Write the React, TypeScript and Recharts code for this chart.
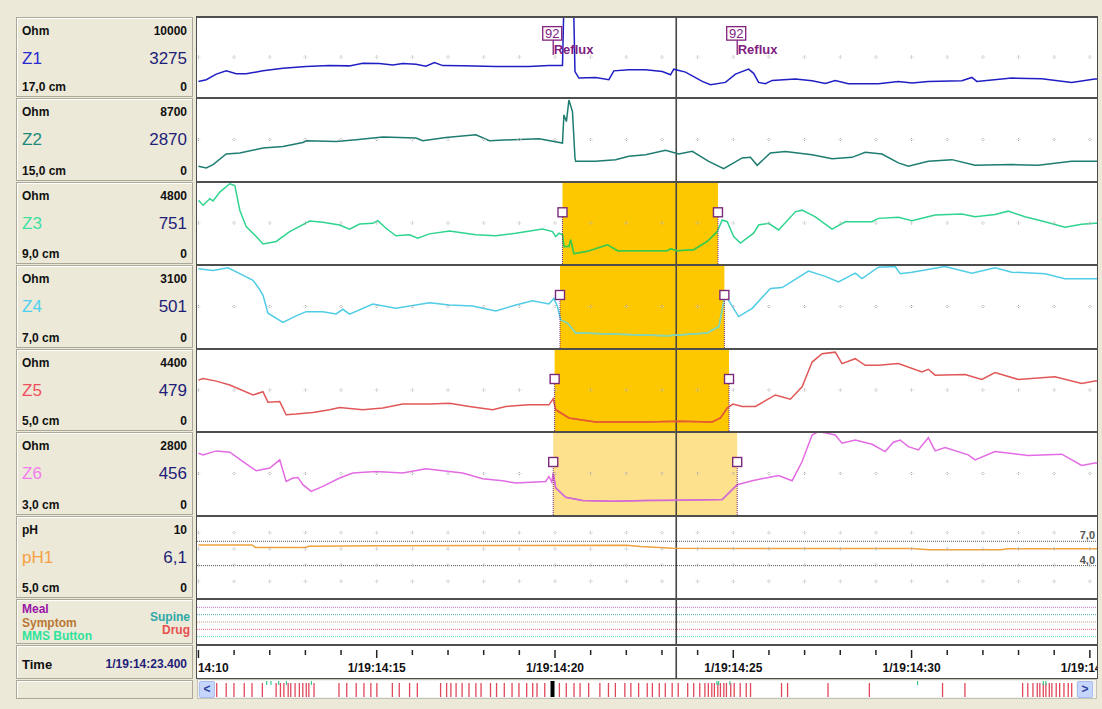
import React from 'react';
import {
  ComposedChart,
  Line,
  Scatter,
  XAxis,
  YAxis,
  ReferenceArea,
  ReferenceLine,
  ReferenceDot,
} from 'recharts';

// ---- data (time in seconds after 1/19:14:00, impedance in Ohm, pH units) ----

const seconds = [10, 11, 12, 13, 14, 15, 16, 17, 18, 19, 20, 21, 22, 23, 24, 25, 26, 27, 28, 29, 30, 31, 32, 33, 34, 35];
const cursorTime = 23.4;

const z1Trace: [number, number][] = [
  [10.0, 1975], [10.22, 2190], [10.5, 2900], [10.78, 3310], [11.06, 2940], [11.34, 2940], [11.81, 3310],
  [12.37, 3650], [13.02, 3850], [13.67, 3975], [14.23, 3940], [14.61, 4275], [15.07, 4225], [15.45, 4060],
  [15.73, 4225], [16.1, 4150], [16.38, 3900], [16.62, 4350], [16.85, 3975], [17.41, 3940], [18.34, 3850],
  [19.27, 3850], [19.83, 3975], [20.21, 3975], [20.25, 12000], [20.52, 12000], [20.56, 3225], [20.67, 2400],
  [21.14, 2475], [21.51, 2190], [21.65, 3310], [22.07, 3440], [22.54, 3440], [23.01, 3225], [23.24, 2810],
  [23.33, 3525], [23.66, 3150], [24.13, 1975], [24.36, 1560], [24.78, 1850], [25.06, 2900], [25.43, 3525],
  [25.57, 3000], [25.71, 1850], [25.9, 1690], [26.09, 2100], [26.74, 2275], [27.21, 2060], [27.58, 1725],
  [27.86, 2100], [28.23, 1690], [29.07, 1690], [29.63, 1975], [30.01, 1775], [30.47, 1975], [31.41, 2060],
  [31.69, 2475], [31.83, 1975], [32.81, 2400], [33.65, 2310], [34.49, 1850], [35.14, 2275], [35.2, 2275],
];

const z2Trace: [number, number][] = [
  [10.0, 1561], [10.22, 1392], [10.41, 1740], [10.78, 2868], [11.16, 2974], [11.81, 3501], [12.37, 3670],
  [12.93, 4091], [13.02, 4271], [13.86, 4197], [14.42, 4376], [15.17, 4661], [16.1, 4555], [16.29, 4271],
  [16.94, 4619], [17.78, 4903], [18.16, 4271], [18.81, 4376], [19.55, 4482], [20.21, 4028], [20.25, 7013],
  [20.32, 6306], [20.39, 8594], [20.49, 7361], [20.56, 2446], [20.58, 2088], [21.14, 2088], [21.7, 2267],
  [22.07, 2615], [22.54, 2794], [23.1, 3248], [23.47, 2868], [23.85, 3142], [24.31, 2088], [24.73, 1318],
  [25.25, 2446], [25.48, 2510], [25.67, 1666], [26.04, 2974], [26.46, 3142], [27.21, 2794], [27.77, 2373],
  [28.33, 2510], [28.7, 3037], [29.17, 2868], [29.63, 1919], [29.91, 1561], [30.47, 2088], [31.13, 2267],
  [31.78, 1666], [32.81, 1740], [33.55, 1666], [34.49, 2088], [35.14, 2088], [35.2, 2088],
];

const z3Trace: [number, number][] = [
  [10.0, 3776], [10.13, 3483], [10.32, 3875], [10.41, 3735], [10.6, 4262], [10.88, 4753], [11.02, 4654],
  [11.16, 3190], [11.34, 2213], [11.62, 1627], [11.81, 1182], [12.18, 1335], [12.56, 1920], [13.12, 2546],
  [13.49, 2470], [13.96, 2312], [14.24, 2061], [14.52, 2371], [14.89, 2412], [15.03, 2564], [15.26, 2119],
  [15.54, 1668], [15.92, 1727], [16.15, 1534], [16.48, 1785], [17.04, 1961], [17.78, 1727], [18.34, 1668],
  [18.9, 1826], [19.65, 2078], [19.93, 1920], [20.02, 1627], [20.11, 1826], [20.21, 1727], [20.25, 1042],
  [20.39, 1042], [20.44, 1434], [20.53, 615], [20.91, 749], [21.47, 1142], [21.75, 790], [23.15, 790],
  [23.24, 907], [23.43, 790], [23.89, 849], [24.27, 1335], [24.55, 1920], [24.69, 2605], [24.83, 2505],
  [25.01, 1627], [25.2, 1241], [25.57, 1826], [25.71, 2312], [25.99, 2412], [26.27, 2020], [26.74, 3091],
  [26.93, 3190], [27.3, 2798], [27.77, 2061], [28.14, 2505], [28.89, 2505], [29.07, 2704], [29.63, 2763],
  [30.01, 2564], [30.66, 2898], [31.41, 2956], [31.78, 2798], [32.34, 2939], [32.71, 3132], [33.18, 2798],
  [33.74, 2505], [34.3, 2178], [34.77, 2353], [35.14, 2412], [35.2, 2412],
];

const z4Trace: [number, number][] = [
  [10.0, 2995], [10.41, 2932], [10.83, 3033], [11.16, 2809], [11.53, 2558], [11.67, 2308], [11.81, 1998],
  [11.95, 1315], [12.37, 964], [12.74, 1214], [13.02, 1374], [13.49, 1374], [13.86, 1289], [14.05, 1464],
  [14.24, 1277], [14.89, 1662], [15.54, 1501], [16.48, 1711], [17.04, 1625], [17.69, 1587], [18.34, 1401],
  [18.9, 1625], [19.37, 1785], [19.83, 1662], [19.97, 1875], [20.07, 1561], [20.16, 1064], [20.35, 941],
  [20.58, 568], [20.72, 568], [22.21, 504], [23.15, 467], [24.27, 568], [24.6, 814], [24.75, 1875],
  [24.78, 1998], [24.92, 1688], [25.15, 1188], [25.53, 1501], [26.04, 2248], [26.37, 2286], [27.11, 2906],
  [27.58, 2708], [27.95, 2495], [28.42, 2831], [28.61, 2622], [29.07, 3055], [29.54, 3081], [29.68, 2809],
  [30.01, 2868], [30.94, 3081], [31.69, 2831], [32.34, 3033], [32.81, 2868], [33.74, 2809], [34.3, 2622],
  [35.14, 2622], [35.2, 2622],
];

const z5Trace: [number, number][] = [
  [10.0, 2763], [10.13, 2855], [10.5, 2710], [10.88, 2495], [11.53, 1959], [11.81, 2136], [11.95, 1567],
  [12.28, 1599], [12.46, 885], [12.74, 923], [13.21, 1009], [13.68, 1154], [13.96, 1277], [14.61, 1154],
  [15.17, 1245], [15.73, 1460], [16.48, 1460], [17.04, 1513], [17.6, 1331], [18.25, 1154], [18.62, 1331],
  [19.27, 1422], [19.83, 1422], [19.95, 1744], [20.02, 1154], [20.39, 708], [21.14, 494], [22.54, 494],
  [23.47, 526], [24.41, 494], [24.64, 708], [24.83, 1245], [24.99, 1460], [25.25, 1331], [25.62, 1331],
  [26.18, 1959], [26.6, 1728], [26.93, 2404], [27.21, 3745], [27.49, 4196], [27.86, 4282], [28.05, 3660],
  [28.42, 3928], [28.7, 3568], [29.07, 3568], [29.63, 3660], [30.29, 3209], [30.47, 3354], [30.66, 3032],
  [31.5, 3069], [31.97, 2801], [32.34, 3177], [32.99, 2801], [34.02, 2941], [34.77, 2586], [35.14, 2710],
  [35.2, 2710],
];

const z6Trace: [number, number][] = [
  [10.0, 2111], [10.13, 2053], [10.5, 2189], [10.88, 2145], [11.25, 1826], [11.62, 1510], [12.0, 1602],
  [12.28, 1884], [12.46, 1147], [12.65, 1263], [12.79, 1283], [12.93, 1035], [13.16, 808], [13.49, 977],
  [13.96, 1263], [14.33, 1432], [14.98, 1487], [15.73, 1432], [16.38, 1578], [17.04, 1487], [17.41, 1432],
  [17.97, 1239], [18.53, 1171], [18.9, 1093], [19.74, 1147], [19.83, 1317], [19.91, 1127], [19.95, 1432],
  [20.02, 923], [20.3, 604], [20.77, 492], [21.61, 468], [22.54, 492], [23.47, 502], [24.69, 526],
  [25.11, 1035], [25.53, 1171], [26.27, 1351], [26.65, 1171], [26.93, 1826], [27.21, 2732], [27.39, 2850],
  [27.86, 2732], [28.05, 2450], [28.42, 2562], [28.89, 2416], [29.26, 2165], [29.49, 2484], [29.68, 2562],
  [29.91, 2335], [30.19, 2223], [30.47, 2641], [30.66, 2189], [30.94, 2301], [31.59, 2053], [31.78, 1884],
  [32.34, 2165], [33.27, 2030], [34.21, 2077], [34.77, 1690], [35.14, 1772], [35.2, 1772],
];

const ph1Trace: [number, number][] = [
  [10.0, 6.55], [11.5, 6.55], [11.6, 6.25], [13.0, 6.25], [13.1, 6.38], [15.0, 6.45], [22.0, 6.5],
  [22.4, 6.35], [23.3, 6.15], [26.0, 6.12], [30.0, 6.1], [30.5, 5.96], [32.5, 5.96], [32.7, 6.08],
  [35.2, 6.08],
];

const channelNames = ['Z1', 'Z2', 'Z3', 'Z4', 'Z5', 'Z6'];
const channelMax = [10000, 8700, 4800, 3100, 4400, 2800];
const cursorReadings = ['3275', '2870', '751', '501', '479', '456'];
const sensorDepths = ['17,0 cm', '15,0 cm', '9,0 cm', '7,0 cm', '5,0 cm', '3,0 cm'];
const traces = [z1Trace, z2Trace, z3Trace, z4Trace, z5Trace, z6Trace];

// bolus presence (entry / exit time) per channel, null where none
const bolusEntry: (number | null)[] = [null, null, 20.21, 20.14, 19.99, 19.95];
const bolusExit: (number | null)[] = [null, null, 24.57, 24.75, 24.88, 25.11];
const bolusMarkLevel: (number | null)[] = [null, null, 3064, 2004, 2825, 1810];

const refluxTimes = [19.95, 25.11];
const refluxId = '92';
const refluxLevel = 7200;

const phTicks = [2, 4, 6, 8];
const phLimits = [7, 4];
const phLimitLabels = ['7,0', '4,0'];

const eventNames = ['Meal', 'Supine', 'Symptom', 'Drug', 'MMS Button'];

// overview of the whole recording (percent of study) for the scroll strip
const overviewReflux = [
  0.2, 1.3, 2.2, 3.4, 4.3, 5.5, 7.1, 7.6, 8.0, 8.5, 8.8, 9.3, 9.8, 10.2, 10.6, 10.9, 11.5, 14.4, 15.3,
  16.4, 17.3, 18.1, 18.8, 20.6, 21.4, 22.6, 23.5, 26.2, 26.9, 27.4, 28.0, 28.7, 29.5, 30.3, 30.9, 32.0,
  32.7, 33.6, 34.5, 35.3, 36.2, 36.9, 37.4, 38.3, 40.0, 40.8, 41.7, 42.4, 43.4, 44.7, 45.7, 46.5, 47.6,
  48.3, 49.2, 50.2, 50.8, 51.6, 52.3, 53.1, 53.8, 54.9, 55.6, 56.3, 56.9, 57.3, 57.7, 58.0, 58.4, 58.7,
  59.1, 59.4, 59.9, 60.3, 61.0, 61.7, 62.2, 65.8, 66.5, 71.2, 76.0, 84.5, 87.1, 93.8, 94.4, 95.0, 95.5,
  95.8, 96.2, 96.5, 96.9, 97.2, 97.7, 98.1, 98.6, 99.1, 99.5,
];
const overviewMms = [6.0, 6.5, 7.4, 8.3, 11.2, 58.3, 58.5, 59.8, 81.6, 96.2, 96.5];
const overviewPosition = 39.2;

// ---- styles ----

const FONT = '"Liberation Sans", Arial, sans-serif';
const T_DOMAIN: [number, number] = [9.96, 35.2];
const PLOT_W = 900;
const PLOT_X = 197;
const plotTops = [18, 99, 183, 266, 350, 433];
const plotHeights = [79, 82, 81, 82, 81, 82];
const PH_TOP = 517;
const PH_H = 81;
const EV_TOP = 600;
const EV_H = 44;
const TIME_TOP = 646;
const TIME_H = 32;

const traceColors = ['#1f1fc4', '#1e7c70', '#2fd48e', '#4fcde6', '#e15757', '#e36be3'];
const bolusTraceColors = ['', '', '#45c93a', '#8ad6b0', '#e65d2e', '#d06dd2'];
const bolusFills = ['', '', '#fec800', '#fec800', '#fec800', '#fde18c'];
const nameColors = ['#2a2ad2', '#1f8a7c', '#3fe0a0', '#4fd0f0', '#f0505e', '#f47cf0'];
const eventLineColors = ['#c878c8', '#4aaaaa', '#c49478', '#e06878', '#58d8a8'];
const eventTextColors = ['#9a14a8', '#2ea8a8', '#b87834', '#e65050', '#2fe39a'];
const VALUE_COLOR = '#1e1e78';
const CURSOR_COLOR = '#454545';
const MARK_COLOR = '#7b2a7b';

const GridDot = (props: any) => {
  const { cx, cy } = props;
  if (cx == null || cy == null) return <g />;
  return (
    <g>
      <rect x={cx - 0.5} y={cy - 2} width={1} height={1} fill="#9c9c9c" />
      <rect x={cx - 0.5} y={cy} width={1} height={1} fill="#9c9c9c" />
      <rect x={cx - 2} y={cy - 1} width={1} height={1} fill="#d0d0d0" />
      <rect x={cx + 1} y={cy - 1} width={1} height={1} fill="#d0d0d0" />
    </g>
  );
};

const BolusMark = (props: any) => {
  const { cx, cy } = props;
  return <rect x={cx - 4.5} y={cy - 4.5} width={9} height={9} fill="#fff" stroke={MARK_COLOR} strokeWidth={1.4} />;
};

const RefluxFlag = (props: any) => {
  const { cx, cy } = props;
  return (
    <g>
      <line x1={cx} y1={cy} x2={cx} y2={cy + 15} stroke="#80207f" strokeWidth={1.3} />
      <rect x={cx - 10.5} y={cy - 13.5} width={19} height={13.5} fill="#fff" stroke="#80207f" strokeWidth={1.3} />
      <text x={cx - 1} y={cy - 2.5} textAnchor="middle" fontSize={13} fill="#80207f" fontFamily={FONT}>
        {refluxId}
      </text>
      <text x={cx + 0.5} y={cy + 13.5} fontSize={13} fontWeight="bold" fill="#80207f" fontFamily={FONT}>
        Reflux
      </text>
    </g>
  );
};

const TimeTick = (props: any) => {
  const { x, y, payload } = props;
  const s = payload.value as number;
  const major = s % 5 === 0;
  const first = s === seconds[0];
  return (
    <g>
      <line x1={x} x2={x} y1={y + 3} y2={y + (major ? 11 : 8)} stroke="#222" strokeWidth={1.5} />
      {major && (
        <text
          x={first ? x - 0.5 : x}
          y={y + 25}
          textAnchor={first ? 'start' : 'middle'}
          fontSize={12}
          fontWeight="bold"
          fill="#111"
          fontFamily={FONT}
        >
          {first ? `14:${s}` : `1/19:14:${s}`}
        </text>
      )}
    </g>
  );
};

const OverviewTick = (props: any) => {
  const { cx } = props;
  return <line x1={cx} x2={cx} y1={2} y2={16} stroke="#e0485a" strokeWidth={1.3} />;
};

const OverviewMms = (props: any) => {
  const { cx } = props;
  return <line x1={cx} x2={cx} y1={0} y2={4} stroke="#3cc890" strokeWidth={1.2} />;
};

function ImpedanceStrip({ i }: { i: number }) {
  const max = channelMax[i];
  const data = traces[i].map(([t, v]) => ({ t, v }));
  const entry = bolusEntry[i];
  const exit = bolusExit[i];
  const mark = bolusMarkLevel[i];
  const inside = entry != null && exit != null ? data.filter((d) => d.t >= entry && d.t <= exit) : [];
  const dots = seconds.map((t) => ({ t, v: max / 2 }));
  const h = plotHeights[i];
  return (
    <div style={{ position: 'absolute', left: PLOT_X, top: plotTops[i], width: PLOT_W, height: h, background: '#fff', overflow: 'hidden' }}>
      <ComposedChart width={PLOT_W} height={h} margin={{ top: 0, right: 0, bottom: 0, left: 0 }}>
        <XAxis type="number" dataKey="t" domain={T_DOMAIN} allowDataOverflow hide />
        <YAxis type="number" domain={[0, max]} allowDataOverflow hide />
        {entry != null && exit != null && (
          <ReferenceArea x1={entry} x2={exit} fill={bolusFills[i]} fillOpacity={1} stroke="none" />
        )}
        <Scatter data={dots} dataKey="v" shape={GridDot} isAnimationActive={false} />
        <ReferenceLine x={cursorTime} stroke={CURSOR_COLOR} strokeWidth={1.6} />
        <Line data={data} dataKey="v" type="linear" stroke={traceColors[i]} strokeWidth={1.5} dot={false} isAnimationActive={false} />
        {inside.length > 0 && (
          <Line data={inside} dataKey="v" type="linear" stroke={bolusTraceColors[i]} strokeWidth={1.5} dot={false} isAnimationActive={false} />
        )}
        {entry != null && mark != null && (
          <ReferenceLine segment={[{ x: entry, y: 0 }, { x: entry, y: mark }]} stroke={MARK_COLOR} strokeDasharray="1 1" />
        )}
        {exit != null && mark != null && (
          <ReferenceLine segment={[{ x: exit, y: 0 }, { x: exit, y: mark }]} stroke={MARK_COLOR} strokeDasharray="1 1" />
        )}
        {entry != null && mark != null && <ReferenceDot x={entry} y={mark} shape={BolusMark} />}
        {exit != null && mark != null && <ReferenceDot x={exit} y={mark} shape={BolusMark} />}
        {i === 0 && refluxTimes.map((t) => <ReferenceDot key={t} x={t} y={refluxLevel} shape={RefluxFlag} />)}
      </ComposedChart>
    </div>
  );
}

function PhStrip() {
  const data = ph1Trace.map(([t, v]) => ({ t, v }));
  const dots = phTicks.flatMap((v) => seconds.map((t) => ({ t, v })));
  return (
    <div style={{ position: 'absolute', left: PLOT_X, top: PH_TOP, width: PLOT_W, height: PH_H, background: '#fff', overflow: 'hidden' }}>
      <ComposedChart width={PLOT_W} height={PH_H} margin={{ top: 0, right: 0, bottom: 0, left: 0 }}>
        <XAxis type="number" dataKey="t" domain={T_DOMAIN} allowDataOverflow hide />
        <YAxis type="number" domain={[0, 10]} allowDataOverflow hide />
        <Scatter data={dots} dataKey="v" shape={GridDot} isAnimationActive={false} />
        {phLimits.map((v, k) => (
          <ReferenceLine
            key={v}
            y={v}
            stroke="#555"
            strokeDasharray="1 1"
            label={{ value: phLimitLabels[k], position: 'insideBottomRight', offset: 2, fill: '#555', fontSize: 11, fontWeight: 'bold', fontFamily: FONT }}
          />
        ))}
        <ReferenceLine x={cursorTime} stroke={CURSOR_COLOR} strokeWidth={1.6} />
        <Line data={data} dataKey="v" type="linear" stroke="#eea23e" strokeWidth={1.5} dot={false} isAnimationActive={false} />
      </ComposedChart>
    </div>
  );
}

function EventStrip() {
  const anchor = [{ t: 20, v: -1 }];
  return (
    <div style={{ position: 'absolute', left: PLOT_X, top: EV_TOP, width: PLOT_W, height: EV_H, background: '#fff', overflow: 'hidden' }}>
      <ComposedChart width={PLOT_W} height={EV_H} margin={{ top: 0, right: 0, bottom: 0, left: 0 }}>
        <XAxis type="number" dataKey="t" domain={T_DOMAIN} allowDataOverflow hide />
        <YAxis type="number" domain={[0, 6]} reversed allowDataOverflow hide />
        <Scatter data={anchor} dataKey="v" fill="none" isAnimationActive={false} />
        {eventNames.map((n, k) => (
          <ReferenceLine key={n} y={k + 1} stroke={eventLineColors[k]} strokeDasharray="1 1" />
        ))}
        <ReferenceLine x={cursorTime} stroke={CURSOR_COLOR} strokeWidth={1.6} />
      </ComposedChart>
    </div>
  );
}

function TimeStrip() {
  const anchor = [{ t: 20, v: -1 }];
  return (
    <div style={{ position: 'absolute', left: PLOT_X, top: TIME_TOP, width: PLOT_W, height: TIME_H, background: '#fff', overflow: 'hidden' }}>
      <ComposedChart width={PLOT_W} height={TIME_H} margin={{ top: 0, right: 0, bottom: 0, left: 0 }}>
        <XAxis
          type="number"
          dataKey="t"
          orientation="top"
          height={1}
          domain={T_DOMAIN}
          ticks={seconds}
          interval={0}
          allowDataOverflow
          axisLine={false}
          tickLine={false}
          tickSize={0}
          tickMargin={0}
          tick={TimeTick}
        />
        <YAxis type="number" domain={[0, 1]} hide />
        <Scatter data={anchor} dataKey="v" fill="none" isAnimationActive={false} />
        <ReferenceLine x={cursorTime} stroke={CURSOR_COLOR} strokeWidth={1.6} />
      </ComposedChart>
    </div>
  );
}

function OverviewStrip() {
  const marks = overviewReflux.map((p) => ({ p, y: 0.5 }));
  const mms = overviewMms.map((p) => ({ p, y: 0.5 }));
  const btn: React.CSSProperties = {
    position: 'absolute', top: 681, width: 14, height: 15, background: '#c6d5fb', border: '1px solid #aabdf0',
    borderRadius: 2, color: '#2a3f9c', fontSize: 12, fontWeight: 'bold', lineHeight: '15px', textAlign: 'center', fontFamily: FONT,
  };
  return (
    <>
      <div style={{ position: 'absolute', left: 197, top: 679, width: 900, height: 20, background: '#f3f2ec', border: '1px solid #c4c2b8', boxSizing: 'border-box' }} />
      <div style={{ ...btn, left: 199 }}>{'<'}</div>
      <div style={{ ...btn, left: 1077 }}>{'>'}</div>
      <div style={{ position: 'absolute', left: 215, top: 681, width: 861, height: 16, background: '#fff', overflow: 'hidden' }}>
        <ComposedChart width={861} height={16} margin={{ top: 0, right: 0, bottom: 0, left: 0 }}>
          <XAxis type="number" dataKey="p" domain={[0, 100]} hide />
          <YAxis type="number" domain={[0, 1]} hide />
          <Scatter data={marks} dataKey="y" shape={OverviewTick} isAnimationActive={false} />
          <Scatter data={mms} dataKey="y" shape={OverviewMms} isAnimationActive={false} />
          <ReferenceLine x={overviewPosition} stroke="#000" strokeWidth={4} />
        </ComposedChart>
      </div>
    </>
  );
}

const cellStyle: React.CSSProperties = {
  position: 'absolute',
  left: 16,
  width: 177,
  boxSizing: 'border-box',
  border: '1px solid #aca899',
  boxShadow: 'inset 1px 1px 0 #fff',
  background: '#ece9d8',
};

function Txt({ x, right, cy, size, bold, color, children }: any) {
  const lh = size + 2;
  const style: React.CSSProperties = {
    position: 'absolute',
    top: cy - lh / 2,
    lineHeight: `${lh}px`,
    fontSize: size,
    fontWeight: bold ? 'bold' : 'normal',
    color,
    whiteSpace: 'nowrap',
  };
  if (right != null) style.right = right;
  else style.left = x;
  return <div style={style}>{children}</div>;
}

function ChannelCell({ top, height, unit, max, name, nameColor, reading, depth }: any) {
  return (
    <div style={{ ...cellStyle, top, height }}>
      <Txt x={5} cy={12.5} size={12} bold color="#111">{unit}</Txt>
      <Txt right={5} cy={12.5} size={12} bold color="#111">{max}</Txt>
      <Txt x={5} cy={40} size={17} color={nameColor}>{name}</Txt>
      <Txt right={5} cy={40} size={17} color={VALUE_COLOR}>{reading}</Txt>
      <Txt x={5} cy={height - 11} size={12} bold color="#111">{depth}</Txt>
      <Txt right={5} cy={height - 11} size={12} bold color="#111">0</Txt>
    </div>
  );
}

export default function App() {
  return (
    <div style={{ position: 'absolute', left: 0, top: 0, width: 1102, height: 709, background: '#ece9d8', fontFamily: FONT, overflow: 'hidden' }}>
      {/* dark frame behind the strips; gaps between strips become the separators */}
      <div style={{ position: 'absolute', left: 196, top: 16, width: 902, height: 663, background: '#4e4e4e' }} />

      {channelNames.map((n, i) => (
        <ChannelCell
          key={n}
          top={plotTops[i] - 1}
          height={plotHeights[i] + 1}
          unit="Ohm"
          max={channelMax[i]}
          name={n}
          nameColor={nameColors[i]}
          reading={cursorReadings[i]}
          depth={sensorDepths[i]}
        />
      ))}
      <ChannelCell top={PH_TOP - 1} height={PH_H + 1} unit="pH" max={10} name="pH1" nameColor="#f6a044" reading="6,1" depth="5,0 cm" />

      <div style={{ ...cellStyle, top: EV_TOP - 1, height: EV_H + 1 }}>
        <Txt x={5} cy={8.5} size={12} bold color={eventTextColors[0]}>{eventNames[0]}</Txt>
        <Txt x={5} cy={22.5} size={12} bold color={eventTextColors[2]}>{eventNames[2]}</Txt>
        <Txt x={5} cy={36} size={12} bold color={eventTextColors[4]}>{eventNames[4]}</Txt>
        <Txt right={2} cy={16.5} size={12} bold color={eventTextColors[1]}>{eventNames[1]}</Txt>
        <Txt right={2} cy={29.5} size={12} bold color={eventTextColors[3]}>{eventNames[3]}</Txt>
      </div>

      <div style={{ ...cellStyle, top: TIME_TOP - 1, height: TIME_H + 2 }}>
        <Txt x={5} cy={18} size={13} bold color="#111">Time</Txt>
        <Txt right={5} cy={18} size={12} bold color={VALUE_COLOR}>1/19:14:23.400</Txt>
      </div>
      <div style={{ ...cellStyle, top: 680, height: 19 }} />

      {channelNames.map((n, i) => (
        <ImpedanceStrip key={n} i={i} />
      ))}
      <PhStrip />
      <EventStrip />
      <TimeStrip />
      <OverviewStrip />
    </div>
  );
}
